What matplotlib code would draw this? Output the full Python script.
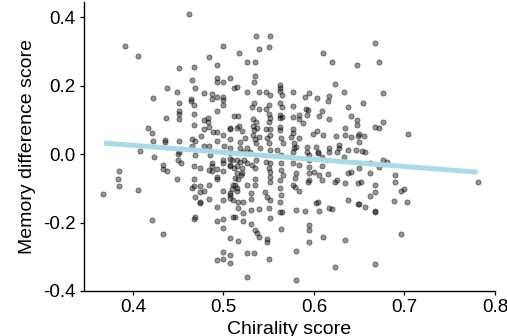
import numpy as np
import matplotlib
matplotlib.use("Agg")
from matplotlib import pyplot as plt

## data (chirality score, memory difference score)
# top + left upper block
chir_a = [0.462, 0.391, 0.406, 0.500, 0.484, 0.493, 0.451, 0.467, 0.465, 0.493,
          0.493, 0.500, 0.507, 0.438, 0.469, 0.449, 0.422, 0.451, 0.464, 0.464,
          0.478, 0.487, 0.487, 0.493, 0.500, 0.500, 0.500, 0.467, 0.493, 0.451,
          0.451, 0.451, 0.437, 0.467, 0.467, 0.478, 0.483, 0.483, 0.484, 0.479,
          0.475, 0.488, 0.493, 0.500, 0.507, 0.417, 0.421, 0.422, 0.436, 0.436,
          0.451, 0.465, 0.469, 0.465, 0.478, 0.484, 0.493, 0.507, 0.501, 0.507,
          0.408, 0.451]
mem_a = [0.408, 0.316, 0.287, 0.316, 0.284, 0.261, 0.252, 0.254, 0.215, 0.223,
         0.209, 0.210, 0.223, 0.193, 0.192, 0.180, 0.163, 0.149, 0.162, 0.155,
         0.178, 0.175, 0.161, 0.166, 0.167, 0.158, 0.144, 0.144, 0.126, 0.127,
         0.116, 0.102, 0.105, 0.116, 0.084, 0.098, 0.106, 0.095, 0.078, 0.073,
         0.054, 0.065, 0.064, 0.056, 0.074, 0.075, 0.060, 0.038, 0.041, 0.034,
         0.038, 0.043, 0.039, 0.024, 0.023, 0.023, 0.038, 0.043, 0.023, 0.018,
         0.008, 0.007]

# left lower block
chir_b = [0.423, 0.450, 0.450, 0.453, 0.433, 0.433, 0.438, 0.385, 0.383, 0.385,
          0.367, 0.406, 0.449, 0.467, 0.474, 0.469, 0.485, 0.487, 0.487, 0.484,
          0.487, 0.493, 0.493, 0.493, 0.500, 0.500, 0.500, 0.507, 0.507, 0.467,
          0.467, 0.465, 0.474, 0.478, 0.474, 0.484, 0.469, 0.474, 0.474, 0.484,
          0.493, 0.500, 0.500, 0.507, 0.507, 0.511, 0.421, 0.433, 0.467, 0.469,
          0.493, 0.500, 0.500, 0.507, 0.511, 0.500, 0.507, 0.493, 0.500, 0.507]
mem_b = [-0.008, 0.000, -0.018, -0.027, -0.032, -0.045, -0.050, -0.049, -0.072, -0.092,
         -0.118, -0.105, -0.073, -0.036, -0.040, -0.002, -0.003, -0.027, -0.035, -0.047,
         -0.050, -0.043, -0.066, -0.074, -0.016, -0.027, -0.051, -0.015, -0.035, -0.074,
         -0.092, -0.099, -0.093, -0.109, -0.112, -0.090, -0.125, -0.139, -0.144, -0.130,
         -0.154, -0.108, -0.133, -0.115, -0.128, -0.091, -0.194, -0.233, -0.191, -0.183,
         -0.197, -0.191, -0.216, -0.244, -0.185, -0.285, -0.296, -0.310, -0.308, -0.317]

# middle upper block
chir_c = [0.536, 0.551, 0.539, 0.550, 0.517, 0.526, 0.535, 0.610, 0.620, 0.648,
          0.535, 0.534, 0.512, 0.515, 0.562, 0.562, 0.562, 0.577, 0.526, 0.539,
          0.547, 0.551, 0.565, 0.590, 0.595, 0.603, 0.617, 0.616, 0.623, 0.633,
          0.534, 0.532, 0.539, 0.547, 0.550, 0.562, 0.565, 0.577, 0.591, 0.593,
          0.609, 0.606, 0.638, 0.641, 0.617, 0.648, 0.512, 0.516, 0.533, 0.536,
          0.550, 0.552, 0.550, 0.562, 0.562, 0.565, 0.577, 0.583, 0.584, 0.592,
          0.588, 0.507, 0.515, 0.517, 0.521, 0.533, 0.534, 0.537, 0.547, 0.551,
          0.562, 0.563, 0.577, 0.577, 0.603, 0.599, 0.610, 0.624, 0.634, 0.634,
          0.641, 0.649, 0.648, 0.518, 0.524, 0.533, 0.535, 0.539, 0.536, 0.548,
          0.550, 0.551, 0.564, 0.566, 0.575, 0.578, 0.580, 0.583, 0.518, 0.526,
          0.540, 0.551, 0.559, 0.577, 0.578, 0.592, 0.592, 0.602, 0.604, 0.617,
          0.617, 0.628, 0.628, 0.638, 0.647]
mem_c = [0.346, 0.344, 0.306, 0.312, 0.295, 0.270, 0.269, 0.294, 0.268, 0.259,
         0.228, 0.209, 0.192, 0.196, 0.203, 0.194, 0.184, 0.181, 0.180, 0.182,
         0.180, 0.172, 0.172, 0.167, 0.179, 0.163, 0.169, 0.156, 0.204, 0.180,
         0.148, 0.136, 0.132, 0.131, 0.143, 0.148, 0.136, 0.140, 0.131, 0.128,
         0.126, 0.112, 0.136, 0.112, 0.101, 0.099, 0.112, 0.112, 0.102, 0.095,
         0.117, 0.105, 0.094, 0.114, 0.104, 0.109, 0.108, 0.113, 0.101, 0.114,
         0.090, 0.075, 0.076, 0.082, 0.068, 0.082, 0.071, 0.075, 0.074, 0.074,
         0.080, 0.069, 0.074, 0.062, 0.067, 0.058, 0.056, 0.054, 0.075, 0.055,
         0.050, 0.053, 0.084, 0.035, 0.046, 0.057, 0.043, 0.049, 0.031, 0.048,
         0.031, 0.055, 0.046, 0.031, 0.051, 0.031, 0.021, 0.046, 0.017, 0.018,
         0.018, 0.012, 0.012, 0.007, 0.017, 0.021, 0.007, 0.021, 0.007, 0.017,
         0.007, 0.026, 0.017, 0.012, 0.012]

# middle lower block
chir_d = [0.507, 0.522, 0.529, 0.509, 0.515, 0.518, 0.523, 0.507, 0.512, 0.515,
          0.520, 0.526, 0.532, 0.536, 0.535, 0.515, 0.519, 0.513, 0.516, 0.521,
          0.526, 0.535, 0.513, 0.515, 0.535, 0.547, 0.551, 0.550, 0.551, 0.551,
          0.551, 0.564, 0.564, 0.564, 0.566, 0.562, 0.577, 0.583, 0.580, 0.579,
          0.577, 0.579, 0.583, 0.595, 0.594, 0.594, 0.593, 0.600, 0.606, 0.609,
          0.616, 0.609, 0.604, 0.609, 0.594, 0.595, 0.625, 0.633, 0.623, 0.626,
          0.634, 0.638, 0.641, 0.649, 0.649, 0.638, 0.507, 0.511, 0.516, 0.522,
          0.509, 0.515, 0.530, 0.531, 0.546, 0.548, 0.551, 0.550, 0.562, 0.564,
          0.563, 0.562, 0.565, 0.516, 0.522, 0.522, 0.513, 0.531, 0.539, 0.551,
          0.580, 0.590, 0.602, 0.606, 0.605, 0.617, 0.620, 0.531, 0.535, 0.537,
          0.539, 0.564, 0.594, 0.594, 0.594, 0.548, 0.548, 0.516, 0.610, 0.634,
          0.580, 0.526, 0.534, 0.550, 0.623, 0.526, 0.580]
mem_d = [0.002, 0.007, 0.007, -0.016, -0.016, -0.022, -0.016, -0.032, -0.042, -0.034,
         -0.042, -0.027, -0.032, -0.018, -0.042, -0.056, -0.061, -0.071, -0.074, -0.055,
         -0.091, -0.091, -0.091, -0.100, -0.074, -0.022, -0.027, -0.042, -0.052, -0.066,
         -0.081, -0.003, -0.027, -0.047, -0.061, -0.076, -0.027, -0.032, -0.055, -0.071,
         -0.091, -0.097, -0.107, -0.037, -0.056, -0.076, -0.081, -0.052, -0.061, -0.076,
         -0.059, -0.035, 0.002, -0.008, -0.003, -0.018, 0.007, -0.008, -0.081, -0.076,
         -0.084, -0.056, -0.052, -0.086, -0.147, -0.134, -0.120, -0.134, -0.139, -0.141,
         -0.103, -0.108, -0.115, -0.131, -0.110, -0.125, -0.134, -0.159, -0.100, -0.120,
         -0.141, -0.168, -0.168, -0.159, -0.173, -0.195, -0.185, -0.164, -0.162, -0.188,
         -0.164, -0.167, -0.144, -0.167, -0.139, -0.159, -0.162, -0.204, -0.222, -0.232,
         -0.243, -0.219, -0.207, -0.222, -0.256, -0.249, -0.256, -0.254, -0.241, -0.251,
         -0.282, -0.288, -0.288, -0.307, -0.331, -0.358, -0.368]

# right block
chir_e = [0.667, 0.672, 0.676, 0.654, 0.676, 0.667, 0.672, 0.650, 0.655, 0.704,
          0.650, 0.653, 0.656, 0.662, 0.676, 0.681, 0.650, 0.672, 0.662, 0.690,
          0.652, 0.667, 0.690, 0.667, 0.662, 0.696, 0.700, 0.650, 0.656, 0.667,
          0.667, 0.688, 0.703, 0.696, 0.667, 0.781]
mem_e = [0.325, 0.270, 0.179, 0.149, 0.095, 0.080, 0.075, 0.058, 0.053, 0.058,
         0.034, 0.010, 0.006, -0.025, -0.018, -0.023, -0.042, -0.039, -0.054, -0.060,
         -0.083, -0.091, -0.083, -0.112, -0.124, -0.109, -0.103, -0.147, -0.156, -0.165,
         -0.169, -0.137, -0.141, -0.233, -0.320, -0.082]

# lm fit line as shown on the chart (ends at the data range)
fit_chirality = [0.368, 0.781]
fit_memory = [0.032, -0.053]

x_ticks = [0.4, 0.5, 0.6, 0.7, 0.8]
y_ticks = [-0.4, -0.2, 0.0, 0.2, 0.4]

chirality = np.array(chir_a + chir_b + chir_c + chir_d + chir_e)
memory = np.array(mem_a + mem_b + mem_c + mem_d + mem_e)

## plotting
plt.rcParams['font.family'] = ['Liberation Sans', 'DejaVu Sans']
fig = plt.figure(figsize=(5.07, 3.36), dpi=100)
ax = fig.add_axes([0.1657, 0.134, 0.8106, 0.861])

ax.scatter(chirality, memory, s=14, facecolor=(0, 0, 0, 0.42),
           edgecolor=(0, 0, 0, 0.55), linewidth=0.5, zorder=2)
ax.plot(fit_chirality, fit_memory, color='#ADD8E6', linewidth=3.6,
        solid_capstyle='butt', zorder=3)

ax.set_xlim(0.346, 0.8)
ax.set_ylim(-0.4, 0.445)
ax.set_xticks(x_ticks)
ax.set_xticklabels([f"{v:.1f}" for v in x_ticks])
ax.set_yticks(y_ticks)
ax.set_yticklabels([f"{v:.1f}" for v in y_ticks])

for side in ['top', 'right']:
    ax.spines[side].set_visible(False)
for side in ['left', 'bottom']:
    ax.spines[side].set_linewidth(1.0)
ax.tick_params(length=3, width=0.9, labelsize=13.5, pad=3, colors='black')

ax.set_xlabel("Chirality score", fontsize=14)
ax.set_ylabel("Memory difference score", fontsize=14)
ax.xaxis.set_label_coords(0.5, -0.105)
ax.yaxis.set_label_coords(-0.117, 0.5)

fig.savefig("out.png", dpi=100)
